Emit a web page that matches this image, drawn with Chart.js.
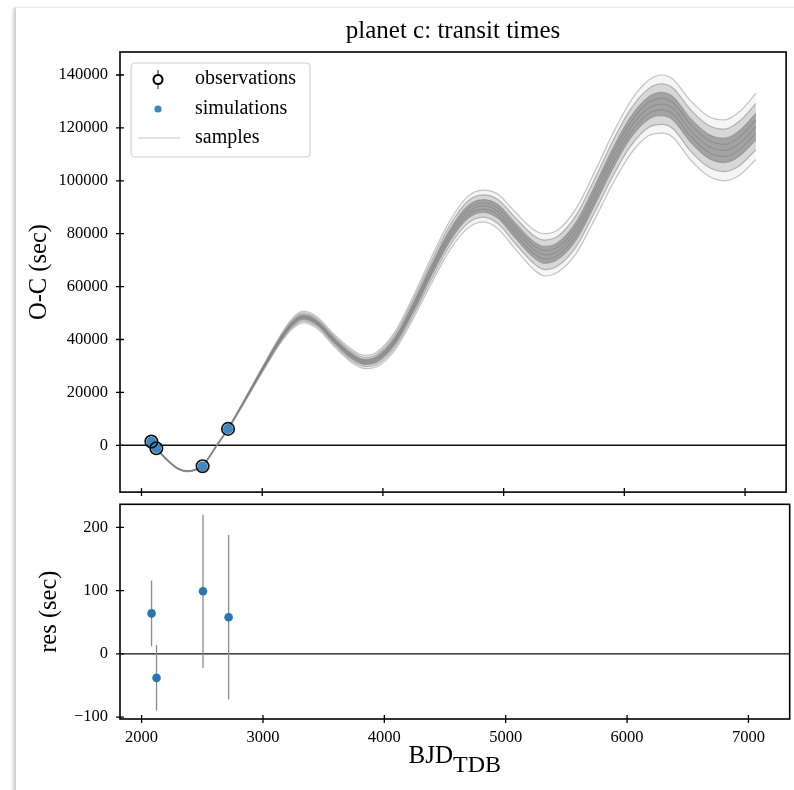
<!DOCTYPE html>
<html>
<head>
<meta charset="utf-8">
<script src="https://cdn.jsdelivr.net/npm/chart.js@4.4.1/dist/chart.umd.min.js"></script>
<style>
  html, body { margin: 0; padding: 0; background: #fff; }
  body { width: 794px; height: 790px; position: relative; overflow: hidden; }
  .frame { position: absolute; left: 15px; top: 7px; width: 800px; height: 800px;
           border-top: 1px solid #ededed; border-left: 1px solid #d0d0d0;
           box-shadow: -3px 0 3px -1px rgba(0,0,0,0.18); }
  canvas { position: absolute; left: 0; }
  #topChart { top: 0; }
  #resChart { top: 500px; }
</style>
</head>
<body>
<div class="frame"></div>
<canvas id="topChart" width="794" height="500"></canvas>
<canvas id="resChart" width="794" height="290"></canvas>
<script>
// observed transits (BJD_TDB - 2450000 style epochs) and O-C in seconds
const obsTimes = [2082, 2123, 2506, 2717];
const obsOC = [1400, -1100, -7900, 6200];
const simOC = [1336, -1062, -7999, 6142];
const resVals = [64, -38, 99, 58];
const resErr = [52, 52, 121, 130];

const xTicks = [2000, 3000, 4000, 5000, 6000, 7000];
const ocTicks = [0, 20000, 40000, 60000, 80000, 100000, 120000, 140000];
const resTicks = [-100, 0, 100, 200];

// posterior sample curves (outer edge -> centre -> outer edge)
const sampleX = [2082,2123,2200,2300,2380,2450,2506,2620,2717,2850,3000,3150,3250,3340,3450,3600,3750,3850,3950,4100,4250,4400,4550,4700,4830,4950,5100,5250,5340,5450,5600,5750,5900,6050,6200,6310,6400,6550,6700,6830,6950,7090];
const sampleA = [1200,-1300,-5200,-9000,-10000,-9400,-8000,-500,5900,15900,27500,38500,44000,46300,44300,37200,31000,29000,29700,36000,47800,61000,73500,82000,84500,82000,74000,66500,64000,65500,72500,85000,98500,110000,117000,118000,116500,107800,101700,100000,102000,108000];
const sampleB = [1260,-1240,-5140,-8940,-9940,-9340,-7940,-440,5990,16080,27800,38950,44600,46960,44960,37890,31750,29750,30540,37050,49060,62500,75150,83800,86300,83950,76100,68750,66400,67900,75050,87700,101350,113000,120150,121300,119800,111160,105090,103450,105600,111750];
const sampleC = [1320,-1180,-5080,-8880,-9880,-9280,-7880,-380,6080,16260,28100,39400,45200,47620,45620,38580,32500,30500,31380,38100,50320,64000,76800,85600,88100,85900,78200,71000,68800,70300,77600,90400,104200,116000,123300,124600,123100,114520,108480,106900,109200,115500];
const sampleD = [1360,-1140,-5040,-8840,-9840,-9240,-7840,-340,6140,16380,28300,39700,45600,48060,46060,39040,33000,31000,31940,38800,51160,65000,77900,86800,89300,87200,79600,72500,70400,71900,79300,92200,106100,118000,125400,126800,125300,116760,110740,109200,111600,118000];
const sampleE = [1400,-1100,-5000,-8800,-9800,-9200,-7800,-300,6200,16500,28500,40000,46000,48500,46500,39500,33500,31500,32500,39500,52000,66000,79000,88000,90500,88500,81000,74000,72000,73500,81000,94000,108000,120000,127500,129000,127500,119000,113000,111500,114000,120500];
const sampleF = [1440,-1060,-4960,-8760,-9760,-9160,-7760,-260,6260,16620,28700,40300,46400,48940,46940,39960,34000,32000,33060,40200,52840,67000,80100,89200,91700,89800,82400,75500,73600,75100,82700,95800,109900,122000,129600,131200,129700,121240,115260,113800,116400,123000];
const sampleG = [1480,-1020,-4920,-8720,-9720,-9120,-7720,-220,6320,16740,28900,40600,46800,49380,47380,40420,34500,32500,33620,40900,53680,68000,81200,90400,92900,91100,83800,77000,75200,76700,84400,97600,111800,124000,131700,133400,131900,123480,117520,116100,118800,125500];
const sampleH = [1540,-960,-4860,-8660,-9660,-9060,-7660,-160,6410,16920,29200,41050,47400,50040,48040,41110,35250,33250,34460,41950,54940,69500,82850,92200,94700,93050,85900,79250,77600,79100,86950,100300,114650,127000,134850,136700,135200,126840,120910,119550,122400,129250];
const sampleI = [1600,-900,-4800,-8600,-9600,-9000,-7600,-100,6500,17100,29500,41500,48000,50700,48700,41800,36000,34000,35300,43000,56200,71000,84500,94000,96500,95000,88000,81500,80000,81500,89500,103000,117500,130000,138000,140000,138500,130200,124300,123000,126000,133000];
const sampleSeries = [sampleA, sampleB, sampleC, sampleD, sampleE, sampleF, sampleG, sampleH, sampleI];

const FONT = "'Liberation Serif', 'Times New Roman', serif";
Chart.defaults.font.family = FONT;
Chart.defaults.font.size = 16.5;
Chart.defaults.color = "#000";

const fmtMinus = (v) => (v < 0 ? "\u2212" + Math.abs(v) : String(v));
const pts = (xs, ys) => ys.map((v, i) => ({ x: xs[i], y: v }));

// spines, in-out ticks, zero line and the text around each panel
const panelPlugin = {
  id: "panel",
  beforeDatasetsDraw(chart, args, opts) {
    const { ctx, chartArea: a, scales: { y } } = chart;
    ctx.save();
    const y0 = y.getPixelForValue(0);
    ctx.strokeStyle = "#111";
    ctx.lineWidth = 1.4;
    ctx.beginPath();
    ctx.moveTo(a.left, y0);
    ctx.lineTo(a.right, y0);
    ctx.stroke();
    if (opts.errors) {
      const x = chart.scales.x;
      ctx.strokeStyle = "#8c8c8c";
      ctx.lineWidth = 1.3;
      ctx.beginPath();
      opts.errors.x.forEach((t, i) => {
        const px = x.getPixelForValue(t);
        ctx.moveTo(px, y.getPixelForValue(opts.errors.v[i] - opts.errors.e[i]));
        ctx.lineTo(px, y.getPixelForValue(opts.errors.v[i] + opts.errors.e[i]));
      });
      ctx.stroke();
    }
    ctx.restore();
  },
  afterDraw(chart, args, opts) {
    const { ctx, chartArea: a, scales: { x, y } } = chart;
    ctx.save();
    ctx.strokeStyle = "#000";
    ctx.lineWidth = 1.6;
    ctx.strokeRect(a.left, a.top, a.right - a.left, a.bottom - a.top);
    ctx.lineWidth = 1.3;
    ctx.beginPath();
    xTicks.forEach(v => {
      const px = x.getPixelForValue(v);
      ctx.moveTo(px, a.bottom - 4);
      ctx.lineTo(px, a.bottom + 4);
    });
    opts.yTicks.forEach(v => {
      const py = y.getPixelForValue(v);
      ctx.moveTo(a.left - 4, py);
      ctx.lineTo(a.left + 4, py);
    });
    ctx.stroke();

    ctx.fillStyle = "#000";
    const cx = (a.left + a.right) / 2;
    if (opts.title) {
      ctx.font = "25px " + FONT;
      ctx.textAlign = "center";
      ctx.textBaseline = "alphabetic";
      ctx.fillText(opts.title, cx, 38);
    }
    if (opts.yTitle) {
      ctx.save();
      ctx.translate(opts.yTitleX, (a.top + a.bottom) / 2);
      ctx.rotate(-Math.PI / 2);
      ctx.font = "24.5px " + FONT;
      ctx.textAlign = "center";
      ctx.textBaseline = "middle";
      ctx.fillText(opts.yTitle, 0, 0);
      ctx.restore();
    }
    if (opts.xTitle) {
      ctx.textAlign = "left";
      ctx.textBaseline = "alphabetic";
      ctx.font = "25px " + FONT;
      const w1 = ctx.measureText("BJD").width;
      ctx.font = "24px " + FONT;
      const w2 = ctx.measureText("TDB").width;
      const x0 = cx - (w1 + w2) / 2;
      ctx.font = "25px " + FONT;
      ctx.fillText("BJD", x0, 263);
      ctx.font = "24px " + FONT;
      ctx.fillText("TDB", x0 + w1, 272);
    }
    ctx.restore();
  }
};

const legendPlugin = {
  id: "ocLegend",
  afterDatasetsDraw(chart) {
    const { ctx } = chart;
    ctx.save();
    ctx.beginPath();
    ctx.roundRect(131, 63, 179, 94, 4);
    ctx.fillStyle = "rgba(255,255,255,0.85)";
    ctx.fill();
    ctx.strokeStyle = "#d2d2d2";
    ctx.lineWidth = 1.2;
    ctx.stroke();
    // observations: open circle with error bar
    ctx.strokeStyle = "#222";
    ctx.lineWidth = 1;
    ctx.beginPath();
    ctx.moveTo(158, 70); ctx.lineTo(158, 89);
    ctx.stroke();
    ctx.fillStyle = "#fff";
    ctx.lineWidth = 2;
    ctx.strokeStyle = "#000";
    ctx.beginPath();
    ctx.arc(158, 79.5, 4.5, 0, Math.PI * 2);
    ctx.fill(); ctx.stroke();
    // simulations: blue dot
    ctx.fillStyle = "#3a88c8";
    ctx.beginPath();
    ctx.arc(158, 109, 3.6, 0, Math.PI * 2);
    ctx.fill();
    // samples: thin grey line
    ctx.strokeStyle = "#c6c6c6";
    ctx.lineWidth = 1;
    ctx.beginPath();
    ctx.moveTo(138, 138); ctx.lineTo(180, 138);
    ctx.stroke();
    ctx.fillStyle = "#000";
    ctx.font = "20px " + FONT;
    ctx.textAlign = "left";
    ctx.textBaseline = "middle";
    ctx.fillText("observations", 195, 79);
    ctx.fillText("simulations", 195, 109);
    ctx.fillText("samples", 195, 138);
    ctx.restore();
  }
};

const sampleDatasets = sampleSeries.map((s, i) => ({
  label: "samples",
  data: pts(sampleX, s),
  borderColor: (i === 0 || i === 8) ? "rgba(150,150,150,0.55)" : "rgba(125,125,125,0.5)",
  borderWidth: 1.2,
  pointRadius: 0,
  cubicInterpolationMode: "monotone",
  fill: false,
  order: 10
}));
sampleDatasets[6].fill = { target: 2 };
sampleDatasets[6].backgroundColor = "rgba(128,128,128,0.6)";
sampleDatasets[7].fill = { target: 1 };
sampleDatasets[7].backgroundColor = "rgba(128,128,128,0.25)";
sampleDatasets[8].fill = { target: 0 };
sampleDatasets[8].backgroundColor = "rgba(128,128,128,0.08)";

const yAxisFit = (scale) => { scale.width = 120; scale.paddingTop = 0; scale.paddingBottom = 0; };

new Chart(document.getElementById("topChart"), {
  type: "line",
  data: {
    datasets: sampleDatasets.concat([
      {
        label: "observations",
        data: pts(obsTimes, obsOC),
        showLine: false,
        pointRadius: 6.2,
        pointBorderWidth: 1.7,
        pointBorderColor: "#111",
        pointBackgroundColor: "rgba(0,0,0,0)",
        order: 0
      },
      {
        label: "simulations",
        data: pts(obsTimes, simOC),
        showLine: false,
        pointRadius: 5,
        pointBorderWidth: 0,
        pointBackgroundColor: "#3a88c8",
        order: 1
      }
    ])
  },
  options: {
    responsive: false,
    animation: false,
    devicePixelRatio: 1,
    events: [],
    layout: { padding: { top: 52, right: 3, bottom: 7, left: 0 } },
    plugins: {
      legend: { display: false },
      tooltip: { enabled: false },
      panel: { yTicks: ocTicks, title: "planet c: transit times", yTitle: "O-C (sec)", yTitleX: 40 }
    },
    scales: {
      x: { type: "linear", min: 1822, max: 7340, display: false },
      y: {
        type: "linear", min: -17700, max: 148700,
        afterBuildTicks: (scale) => { scale.ticks = ocTicks.map(v => ({ value: v })); },
        afterFit: yAxisFit,
        grid: { display: false, drawTicks: false },
        border: { display: false },
        ticks: { padding: 12, callback: fmtMinus }
      }
    }
  },
  plugins: [panelPlugin, legendPlugin]
});

new Chart(document.getElementById("resChart"), {
  type: "line",
  data: {
    datasets: [{
      label: "residuals",
      data: pts(obsTimes, resVals),
      showLine: false,
      pointRadius: 4.3,
      pointBorderWidth: 0,
      pointBackgroundColor: "#2478b6"
    }]
  },
  options: {
    responsive: false,
    animation: false,
    devicePixelRatio: 1,
    events: [],
    layout: { padding: { top: 4, right: 3, bottom: 0, left: 0 } },
    plugins: {
      legend: { display: false },
      tooltip: { enabled: false },
      panel: { yTicks: resTicks, yTitle: "res (sec)", yTitleX: 50, xTitle: true,
               errors: { x: obsTimes, v: resVals, e: resErr } }
    },
    scales: {
      x: {
        type: "linear", min: 1822, max: 7340,
        afterBuildTicks: (scale) => { scale.ticks = xTicks.map(v => ({ value: v })); },
        afterFit: (scale) => { scale.height = 71; scale.paddingLeft = 0; scale.paddingRight = 0; },
        grid: { display: false, drawTicks: false },
        border: { display: false },
        ticks: { padding: 9, maxRotation: 0, callback: (v) => String(v) }
      },
      y: {
        type: "linear", min: -103, max: 236.5,
        afterBuildTicks: (scale) => { scale.ticks = resTicks.map(v => ({ value: v })); },
        afterFit: yAxisFit,
        grid: { display: false, drawTicks: false },
        border: { display: false },
        ticks: { padding: 12, callback: fmtMinus }
      }
    }
  },
  plugins: [panelPlugin]
});
</script>
</body>
</html>
